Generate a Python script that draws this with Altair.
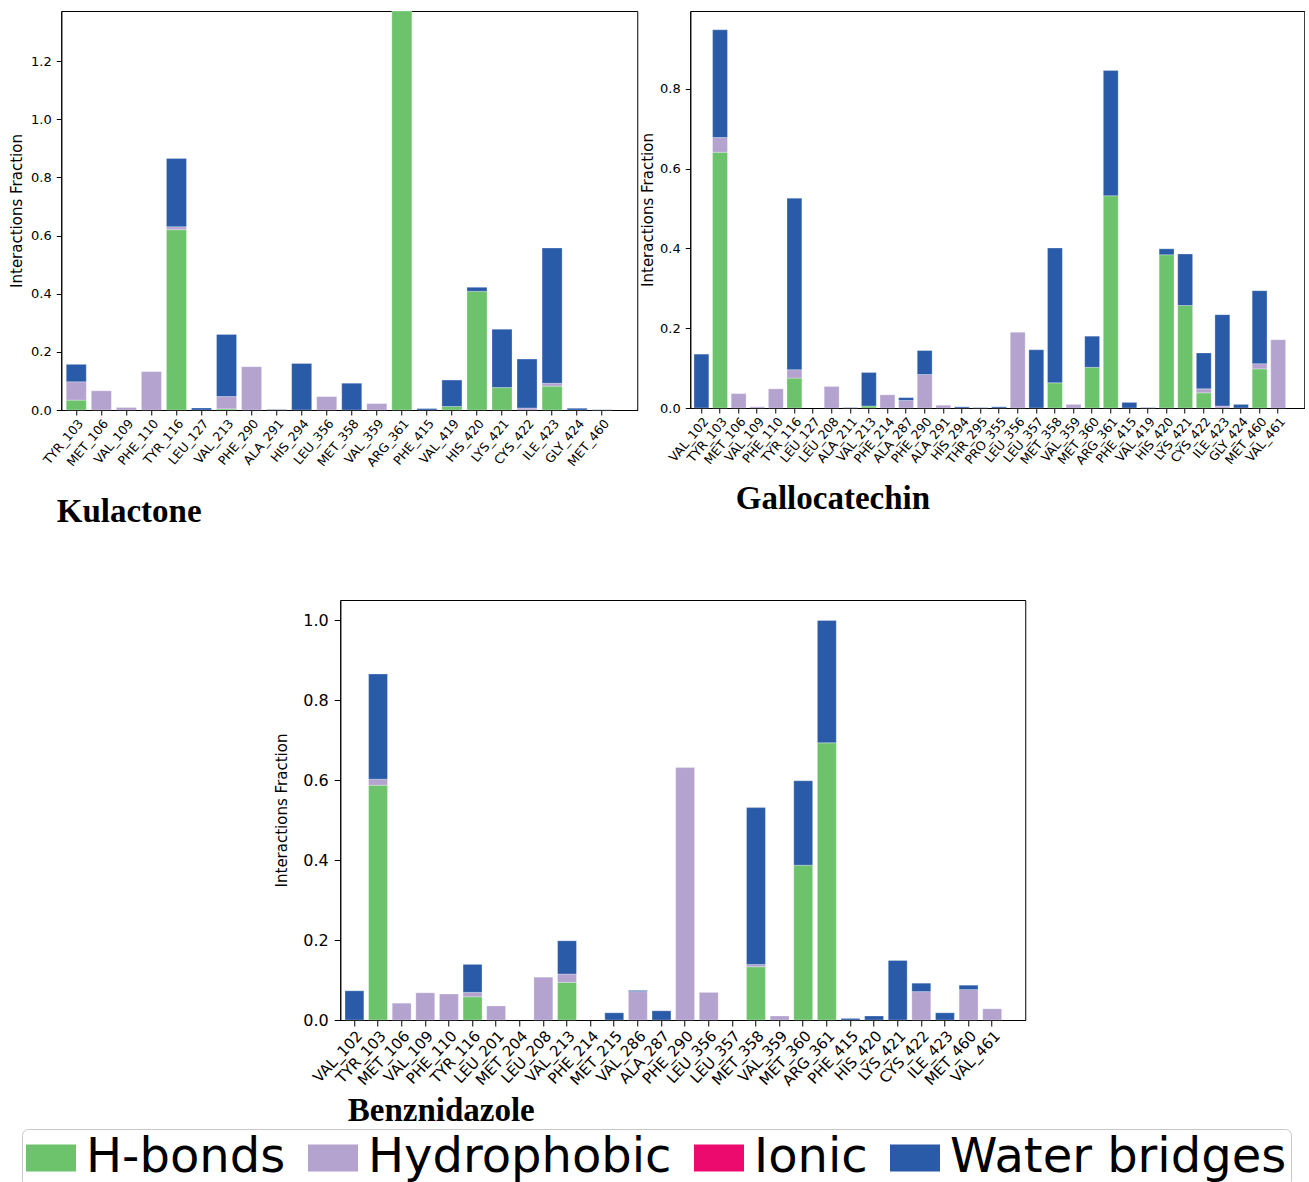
import altair as alt
import pandas as pd

types = ["H-bonds", "Hydrophobic", "Ionic", "Water bridges"]
colors = ["#6cc36c", "#b4a2cf", "#ec0a6e", "#2a5ba8"]

# ---------------- Kulactone ----------------
res_kul = ["TYR_103", "MET_106", "VAL_109", "PHE_110", "TYR_116", "LEU_127", "VAL_213",
           "PHE_290", "ALA_291", "HIS_294", "LEU_356", "MET_358", "VAL_359", "ARG_361",
           "PHE_415", "VAL_419", "HIS_420", "LYS_421", "CYS_422", "ILE_423", "GLY_424", "MET_460"]
hb_kul = [0.034, 0, 0, 0, 0.62, 0, 0.004, 0, 0, 0, 0, 0, 0, 1.372, 0, 0.012, 0.408, 0.077, 0, 0.082, 0, 0]
hp_kul = [0.063, 0.066, 0.009, 0.132, 0.01, 0, 0.042, 0.149, 0, 0, 0.046, 0, 0.022, 0, 0, 0, 0, 0, 0.007, 0.01, 0, 0]
wb_kul = [0.06, 0, 0, 0, 0.235, 0.007, 0.214, 0, 0.002, 0.16, 0, 0.092, 0, 0, 0.005, 0.091, 0.014, 0.201, 0.168, 0.465, 0.006, 0.001]

# ---------------- Gallocatechin ----------------
res_gal = ["VAL_102", "TYR_103", "MET_106", "VAL_109", "PHE_110", "TYR_116", "LEU_127", "LEU_208",
           "ALA_211", "VAL_213", "PHE_214", "ALA_287", "PHE_290", "ALA_291", "HIS_294", "THR_295",
           "PRO_355", "LEU_356", "LEU_357", "MET_358", "VAL_359", "MET_360", "ARG_361", "PHE_415",
           "VAL_419", "HIS_420", "LYS_421", "CYS_422", "ILE_423", "GLY_424", "MET_460", "VAL_461"]
hb_gal = [0, 0.641, 0, 0, 0, 0.075, 0, 0, 0, 0.005, 0, 0, 0, 0, 0, 0, 0, 0, 0, 0.063, 0, 0.102,
          0.532, 0, 0, 0.384, 0.257, 0.038, 0, 0, 0.098, 0]
hp_gal = [0, 0.037, 0.036, 0.003, 0.048, 0.021, 0, 0.054, 0, 0, 0.033, 0.019, 0.084, 0.007, 0, 0, 0,
          0.19, 0, 0, 0.009, 0, 0, 0, 0, 0, 0, 0.01, 0.005, 0, 0.013, 0.171]
wb_gal = [0.135, 0.27, 0, 0, 0, 0.43, 0, 0, 0.001, 0.084, 0, 0.007, 0.06, 0, 0.003, 0.001, 0.003, 0,
          0.146, 0.338, 0, 0.078, 0.314, 0.014, 0.001, 0.015, 0.129, 0.09, 0.229, 0.009, 0.183, 0]

# ---------------- Benznidazole ----------------
res_benz = ["VAL_102", "TYR_103", "MET_106", "VAL_109", "PHE_110", "TYR_116", "LEU_201", "MET_204",
            "LEU_208", "VAL_213", "PHE_214", "MET_215", "VAL_286", "ALA_287", "PHE_290", "LEU_356",
            "LEU_357", "MET_358", "VAL_359", "MET_360", "ARG_361", "PHE_415", "HIS_420", "LYS_421",
            "CYS_422", "ILE_423", "MET_460", "VAL_461"]
hb_benz = [0, 0.587, 0, 0, 0, 0.058, 0, 0, 0, 0.094, 0, 0, 0, 0, 0, 0, 0, 0.133, 0, 0.387, 0.693,
           0, 0, 0, 0, 0, 0, 0]
hp_benz = [0, 0.015, 0.042, 0.068, 0.065, 0.011, 0.035, 0, 0.107, 0.021, 0, 0, 0.071, 0, 0.631,
           0.069, 0, 0.006, 0.01, 0, 0, 0, 0, 0, 0.071, 0, 0.076, 0.028]
wb_benz = [0.073, 0.263, 0, 0, 0, 0.07, 0, 0, 0, 0.083, 0, 0.018, 0.003, 0.023, 0, 0, 0, 0.392, 0,
           0.211, 0.306, 0.004, 0.01, 0.149, 0.021, 0.018, 0.011, 0]


def make_df(res, hb, hp, wb):
    rows = []
    for i, r in enumerate(res):
        vals = [hb[i], hp[i], 0.0, wb[i]]
        for k, (t, v) in enumerate(zip(types, vals)):
            if v > 0:
                rows.append({"res": r, "type": t, "val": v, "ord": k})
    return pd.DataFrame(rows)


legend = alt.Legend(
    orient="none", legendX=-39, legendY=1118, direction="horizontal", title=None,
    symbolType="M-1,-0.54H1V0.54H-1Z", symbolSize=2500, symbolStrokeWidth=0,
    symbolOpacity=1, labelFontSize=48, labelFont="DejaVu Sans", labelColor="black",
    labelOffset=10, columnPadding=22, padding=4, strokeColor="#c8c8c8",
    cornerRadius=6, fillColor="white", labelLimit=0,
)


def panel(df, res, ymax, yticks, w, h, title, tx, ty, ytx, tickfs, labfs, angle, ytfs,
          ticksz=5, lpad=5):
    return alt.Chart(df).mark_bar(stroke="white", strokeWidth=0.4, strokeOpacity=0.7).encode(
        x=alt.X("res:N", sort=res,
                scale=alt.Scale(domain=res, paddingInner=0.2, paddingOuter=0.6, align=1 / 6),
                axis=alt.Axis(title=title, titleFont="Liberation Serif", titleFontWeight="bold",
                              titleFontSize=33, titleAnchor="start", titleAlign="left",
                              titleBaseline="alphabetic", titleX=tx, titleY=ty,
                              labelAngle=-angle, labelAlign="right", labelBaseline="top",
                              labelFontSize=labfs, labelFont="DejaVu Sans", labelOverlap=False,
                              labelBound=False, labelPadding=2, tickSize=ticksz)),
        y=alt.Y("val:Q", stack="zero",
                scale=alt.Scale(domain=[0, ymax], nice=False, zero=True),
                axis=alt.Axis(values=yticks, format=".1f", title="Interactions Fraction",
                              titleFont="DejaVu Sans", titleFontSize=ytfs, titleFontWeight="normal",
                              titleX=ytx, titleBaseline="bottom", labelFontSize=tickfs,
                              labelFont="DejaVu Sans", tickSize=ticksz, labelPadding=lpad)),
        color=alt.Color("type:N", scale=alt.Scale(domain=types, range=colors), legend=legend),
        order=alt.Order("ord:Q", sort="ascending"),
    ).properties(width=w, height=h)


kul = panel(make_df(res_kul, hb_kul, hp_kul, wb_kul), res_kul, 1.372,
            [0, 0.2, 0.4, 0.6, 0.8, 1.0, 1.2], 576, 399, "Kulactone", -5, 111, -37, 13, 12.5, 50, 15)
gal = panel(make_df(res_gal, hb_gal, hp_gal, wb_gal), res_gal, 0.995,
            [0, 0.2, 0.4, 0.6, 0.8], 614, 397, "Gallocatechin", 45, 100, -35, 13, 12.5, 50, 15)
benz = panel(make_df(res_benz, hb_benz, hp_benz, wb_benz), res_benz, 1.05,
             [0, 0.2, 0.4, 0.6, 0.8, 1.0], 685, 420, "Benznidazole", 7, 100, -51, 16, 15, 47, 15,
             ticksz=6, lpad=6)

top = alt.hconcat(kul, gal, spacing=53, bounds="flush")
chart = alt.vconcat(top, benz, spacing=70, center=True).properties(
    padding={"left": 8, "top": 10, "right": 0, "bottom": 0}
).configure_view(stroke="black", strokeWidth=1).configure_axis(
    domainColor="black", tickColor="black", labelColor="black", titleColor="black", grid=False
)

chart.save("out.html", embed_options={"renderer": "svg", "actions": False})
